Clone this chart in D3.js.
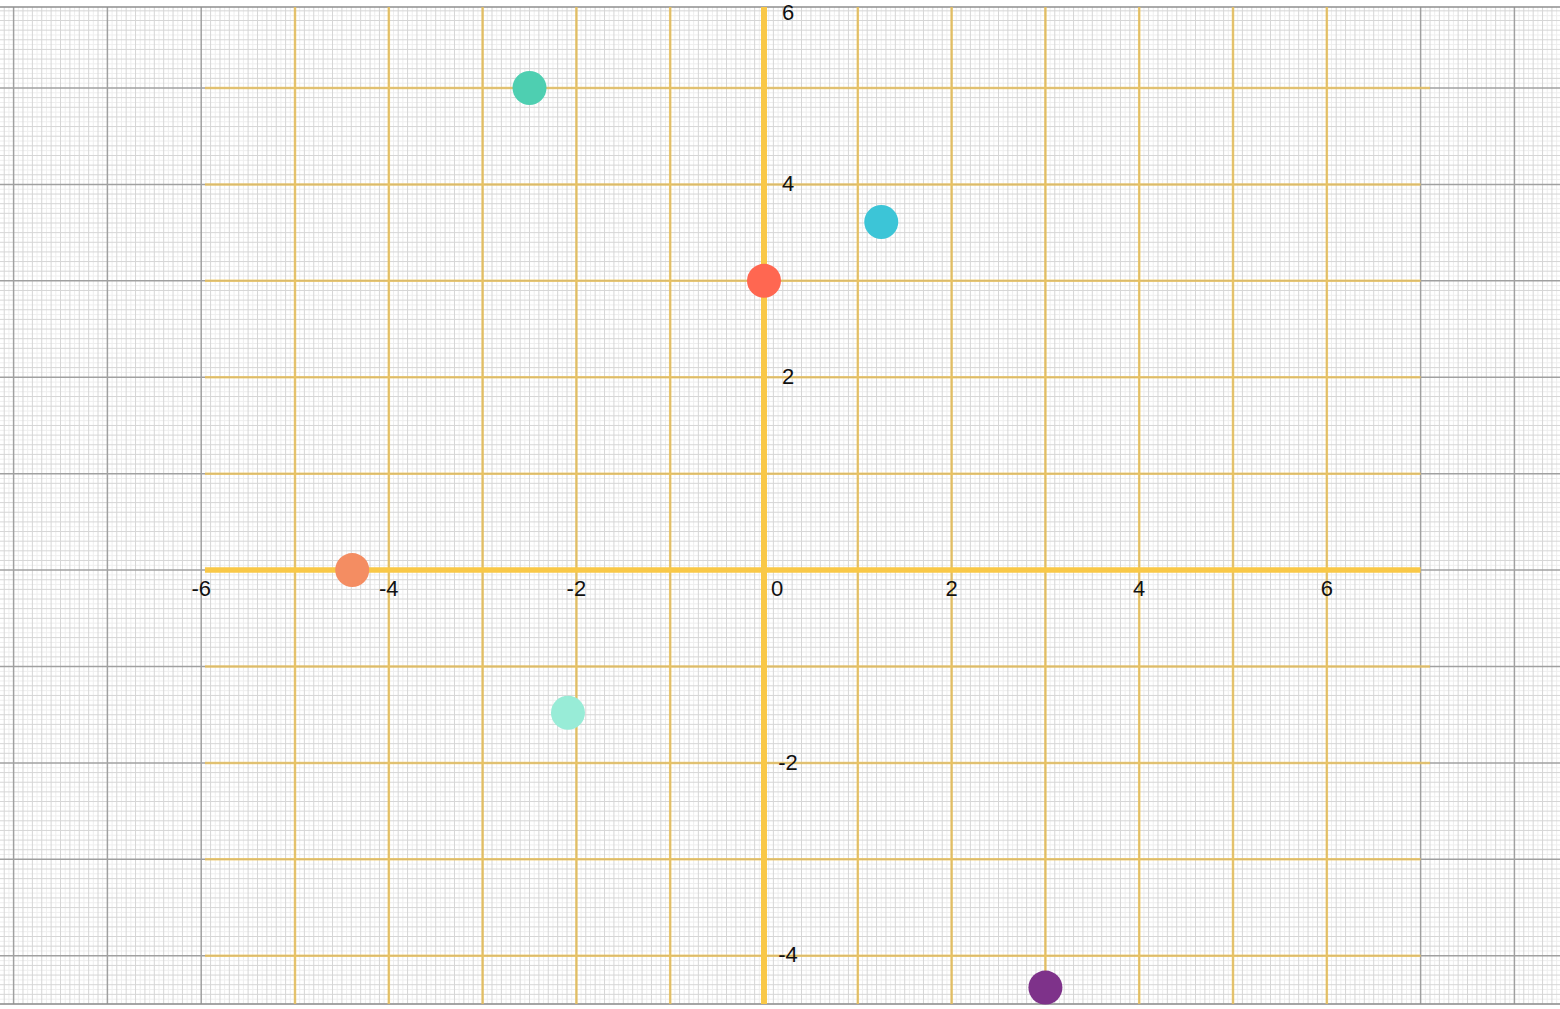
<!DOCTYPE html>
<html>
<head>
<meta charset="utf-8">
<script src="https://cdn.jsdelivr.net/npm/d3@7"></script>
<style>
  html, body { margin: 0; padding: 0; background: #ffffff; }
  svg { display: block; }
  text { font-family: "Liberation Sans", Arial, sans-serif; }
</style>
</head>
<body>
<svg id="chart" width="1560" height="1009"></svg>
<script>
// ---- data ----
const pointX = [-2.5, 1.25, 0, -4.39, -2.09, 3.0];
const pointY = [5.0, 3.61, 3.0, 0, -1.48, -4.33];
const pointColors = ["#4ecfb1", "#3cc5d7", "#ff6751", "#f48d62", "#98ecd7", "#7e328a"];
const xTickLabels = [-6, -4, -2, 0, 2, 4, 6];
const yTickLabels = [6, 4, 2, -2, -4];
const yellowXLines = [-5, -4, -3, -2, -1, 1, 2, 3, 4, 5, 6];
const yellowYLines = [-4, -3, -2, -1, 1, 2, 3, 4, 5];

(function () {
const W = 1560;
const plotTop = 7, plotBottom = 1004;
const x = d3.scaleLinear().domain([-8.145, 8.486]).range([0, W]);
const y = d3.scaleLinear().domain([-4.5, 5.84]).range([plotBottom, plotTop]);

const svg = d3.select("#chart");

// ---- grey graph paper ----
const paper = svg.append("g");
const xFine = d3.range(Math.ceil(-8.145 * 20), Math.floor(8.486 * 20) + 1);
const yFine = d3.range(Math.ceil(-4.5 * 20), Math.floor(5.84 * 20) + 1);

function cls(i) { return i % 20 === 0 ? "major" : (i % 2 === 0 ? "minor" : "fine"); }
const style = {
  fine:  { c: "#eeeeee", w: 1 },
  minor: { c: "#d6d6d6", w: 1 },
  major: { c: "#a0a0a0", w: 1.5 }
};
["fine", "minor", "major"].forEach(level => {
  paper.selectAll(null).data(xFine.filter(i => cls(i) === level)).enter().append("line")
    .attr("x1", i => x(i / 20)).attr("x2", i => x(i / 20))
    .attr("y1", plotTop).attr("y2", plotBottom)
    .attr("stroke", style[level].c).attr("stroke-width", style[level].w);
  paper.selectAll(null).data(yFine.filter(i => cls(i) === level)).enter().append("line")
    .attr("y1", i => y(i / 20)).attr("y2", i => y(i / 20))
    .attr("x1", 0).attr("x2", W)
    .attr("stroke", style[level].c).attr("stroke-width", style[level].w);
});
// frame top/bottom
paper.selectAll(null).data([plotTop, plotBottom]).enter().append("line")
  .attr("x1", 0).attr("x2", W).attr("y1", d => d).attr("y2", d => d)
  .attr("stroke", "#8e8e8e").attr("stroke-width", 1.5);

// ---- yellow grid ----
const yg = svg.append("g");
yg.selectAll(null).data(yellowXLines).enter().append("line")
  .attr("x1", d => x(d)).attr("x2", d => x(d))
  .attr("y1", plotTop).attr("y2", plotBottom)
  .attr("stroke", "#efc459").attr("stroke-opacity", 0.8).attr("stroke-width", 2.5);
yg.selectAll(null).data(yellowYLines).enter().append("line")
  .attr("x1", x(-5.96)).attr("x2", d => (d === 5 || d === -1 || d === -2) ? x(7.1) : x(7))
  .attr("y1", d => y(d)).attr("y2", d => y(d))
  .attr("stroke", "#efc459").attr("stroke-opacity", 0.75).attr("stroke-width", 2.5);

// axes
yg.append("line")
  .attr("x1", x(-5.96)).attr("x2", x(7)).attr("y1", y(0)).attr("y2", y(0))
  .attr("stroke", "#f9c847").attr("stroke-width", 5.5);
yg.append("line")
  .attr("x1", x(0)).attr("x2", x(0)).attr("y1", plotTop).attr("y2", plotBottom)
  .attr("stroke", "#f9c847").attr("stroke-width", 6);

// ---- labels ----
const lab = svg.append("g").attr("font-size", 22).attr("fill", "#111");
lab.selectAll(null).data(xTickLabels).enter().append("text")
  .attr("x", d => d === 0 ? x(0) + 13 : x(d))
  .attr("y", y(0) + 26)
  .attr("text-anchor", "middle")
  .text(d => d);
lab.selectAll(null).data(yTickLabels).enter().append("text")
  .attr("x", x(0) + 24)
  .attr("y", d => Math.max(y(d) - 1, 12))
  .attr("dy", "0.35em")
  .attr("text-anchor", "middle")
  .text(d => d);

// ---- points ----
svg.append("g").selectAll("circle").data(pointX).enter().append("circle")
  .attr("cx", (d) => x(d))
  .attr("cy", (d, i) => y(pointY[i]))
  .attr("r", 17)
  .attr("fill", (d, i) => pointColors[i]);
})();
</script>
</body>
</html>
